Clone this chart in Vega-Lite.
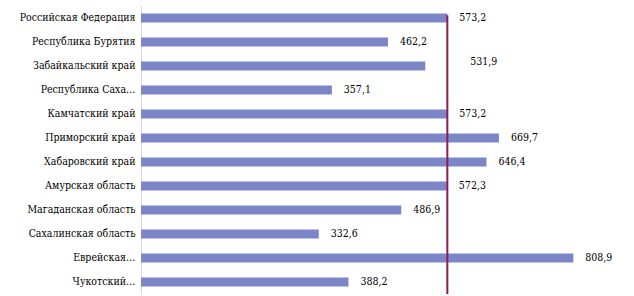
{
  "$schema": "https://vega.github.io/schema/vega-lite/v6.json",
  "autosize": "none",
  "width": 481,
  "height": 288,
  "padding": {"left": 141, "top": 6, "right": 12, "bottom": 2},
  "background": "white",
  "config": {
    "view": {"stroke": null},
    "locale": {"number": {"decimal": ",", "thousands": " ", "grouping": [3], "currency": ["", ""]}}
  },
  "datasets": {
    "regions": [
      {"region": "Российская Федерация", "value": 573.2},
      {"region": "Республика Бурятия", "value": 462.2},
      {"region": "Забайкальский край", "value": 531.9},
      {"region": "Республика Саха…", "value": 357.1},
      {"region": "Камчатский край", "value": 573.2},
      {"region": "Приморский край", "value": 669.7},
      {"region": "Хабаровский край", "value": 646.4},
      {"region": "Амурская область", "value": 572.3},
      {"region": "Магаданская область", "value": 486.9},
      {"region": "Сахалинская область", "value": 332.6},
      {"region": "Еврейская…", "value": 808.9},
      {"region": "Чукотский…", "value": 388.2}
    ],
    "ref": [
      {"ref": 573.2, "from": "Российская Федерация", "to": "Чукотский…"}
    ]
  },
  "encoding": {
    "y": {
      "field": "region",
      "type": "nominal",
      "sort": null,
      "scale": {"paddingInner": 0, "paddingOuter": 0},
      "axis": {
        "title": null,
        "ticks": false,
        "domainColor": "#d9d9d9",
        "domainWidth": 1,
        "labelFont": "DejaVu Serif Condensed",
        "labelFontSize": 10.5,
        "labelColor": "#000000",
        "labelPadding": 6,
        "labelLimit": 200
      }
    },
    "x": {
      "field": "value",
      "type": "quantitative",
      "scale": {"domain": [0, 900], "nice": false},
      "axis": null
    }
  },
  "layer": [
    {
      "data": {"name": "regions"},
      "mark": {"type": "bar", "size": 9, "color": "#7a86c8"}
    },
    {
      "data": {"name": "regions"},
      "transform": [{"filter": "datum.region !== 'Забайкальский край'"}],
      "mark": {"type": "text", "align": "left", "baseline": "middle", "dx": 12, "font": "DejaVu Serif Condensed", "fontSize": 10.5, "color": "#000000"},
      "encoding": {"text": {"field": "value", "type": "quantitative", "format": ".1f"}}
    },
    {
      "data": {"name": "regions"},
      "transform": [{"filter": "datum.region === 'Забайкальский край'"}],
      "mark": {"type": "text", "align": "left", "baseline": "middle", "dx": 45, "dy": -4, "font": "DejaVu Serif Condensed", "fontSize": 10.5, "color": "#000000"},
      "encoding": {"text": {"field": "value", "type": "quantitative", "format": ".1f"}}
    },
    {
      "data": {"name": "ref"},
      "mark": {"type": "rule", "color": "#8f1a52", "strokeWidth": 2},
      "encoding": {
        "x": {"field": "ref", "type": "quantitative"},
        "y": {"field": "from", "type": "nominal", "bandPosition": 0.39},
        "y2": {"field": "to", "bandPosition": 1}
      }
    }
  ]
}
